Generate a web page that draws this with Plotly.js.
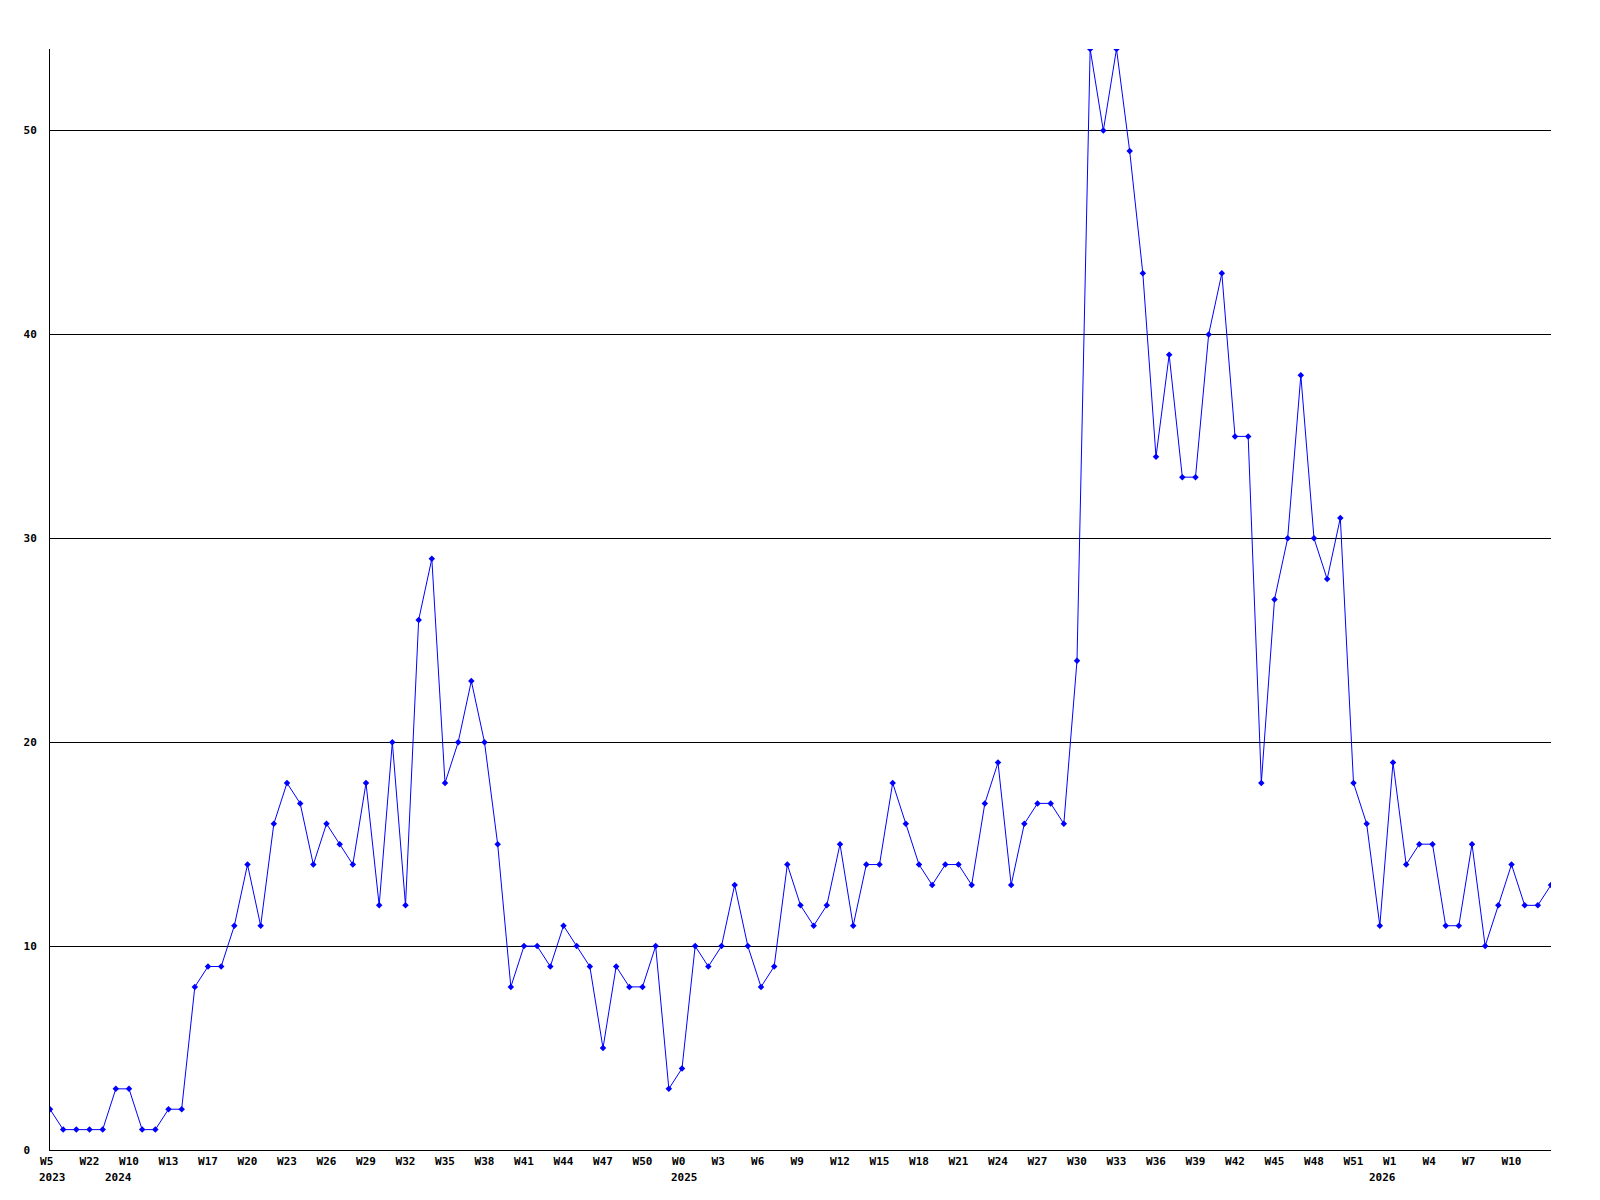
<!DOCTYPE html>
<html>
<head>
<meta charset="utf-8">
<script src="https://cdn.plot.ly/plotly-3.0.1.min.js"></script>
<style>html,body{margin:0;padding:0;background:#fff;}#chart{width:1600px;height:1200px;}</style>
</head>
<body>
<div id="chart"></div>
<script>
// Weekly counts, one value per week (oldest first)
const counts = [
  2, 1, 1, 1, 1, 3, 3, 1, 1, 2,
  2, 8, 9, 9, 11, 14, 11, 16, 18, 17,
  14, 16, 15, 14, 18, 12, 20, 12, 26, 29,
  18, 20, 23, 20, 15, 8, 10, 10, 9, 11,
  10, 9, 5, 9, 8, 8, 10, 3, 4, 10,
  9, 10, 13, 10, 8, 9, 14, 12, 11, 12,
  15, 11, 14, 14, 18, 16, 14, 13, 14, 14,
  13, 17, 19, 13, 16, 17, 17, 16, 24, 54,
  50, 54, 49, 43, 34, 39, 33, 33, 40, 43,
  35, 35, 18, 27, 30, 38, 30, 28, 31, 18,
  16, 11, 19, 14, 15, 15, 11, 11, 15, 10,
  12, 14, 12, 12, 13
];

// Week tick labels (shown every third week)
const weekLabels = ['W5','W22','W10','W13','W17','W20','W23','W26','W29','W32','W35','W38',
  'W41','W44','W47','W50','W0','W3','W6','W9','W12','W15','W18','W21','W24','W27',
  'W30','W33','W36','W39','W42','W45','W48','W51','W1','W4','W7','W10'];
const tickStep = 3;

// Year labels and the week index where each year starts
const yearLabels = ['2023','2024','2025','2026'];
const yearStart = [0, 5, 48, 101];

const yTicks = [0, 10, 20, 30, 40, 50];

const idx = counts.map((_, i) => i);
const pad3 = s => s + '\u00a0'.repeat(Math.max(0, 3 - s.length));
const padY = s => s + '\u00a0'.repeat(Math.max(0, 2 - s.length));

const tickFont = {family: 'DejaVu Sans Mono, Liberation Mono, monospace', size: 11, color: '#000', weight: 'bold'};

const trace = {
  x: idx, y: counts, type: 'scatter', mode: 'lines+markers',
  line: {color: '#0000ff', width: 1},
  marker: {color: '#0000ff', symbol: 'diamond', size: 5},
  hoverinfo: 'skip'
};

const layout = {
  width: 1600, height: 1200,
  margin: {l: 50, r: 49, t: 49, b: 50},
  paper_bgcolor: '#fff', plot_bgcolor: '#fff',
  showlegend: false,
  xaxis: {
    range: [0, counts.length - 1],
    tickmode: 'array',
    tickvals: weekLabels.map((_, i) => i * tickStep),
    ticktext: weekLabels.map(pad3),
    tickangle: 0,
    tickfont: tickFont,
    showgrid: false, zeroline: false,
    showline: true, linecolor: '#000', linewidth: 1,
    ticks: '',
    ticklabelstandoff: 1
  },
  yaxis: {
    range: [0, 54],
    tickmode: 'array',
    tickvals: yTicks,
    ticktext: yTicks.map(v => padY(String(v))),
    tickfont: tickFont,
    showgrid: true, gridcolor: '#000', gridwidth: 1,
    zeroline: false,
    showline: true, linecolor: '#000', linewidth: 1,
    ticks: '',
    ticklabelstandoff: 10
  },
  annotations: yearLabels.map((t, i) => ({
    text: t, x: yearStart[i], xref: 'x', y: 0, yref: 'paper',
    xanchor: 'left', yanchor: 'middle', xshift: -13, yshift: -27,
    showarrow: false, font: tickFont
  }))
};

Plotly.newPlot('chart', [trace], layout, {displayModeBar: false, staticPlot: true});
</script>
</body>
</html>
